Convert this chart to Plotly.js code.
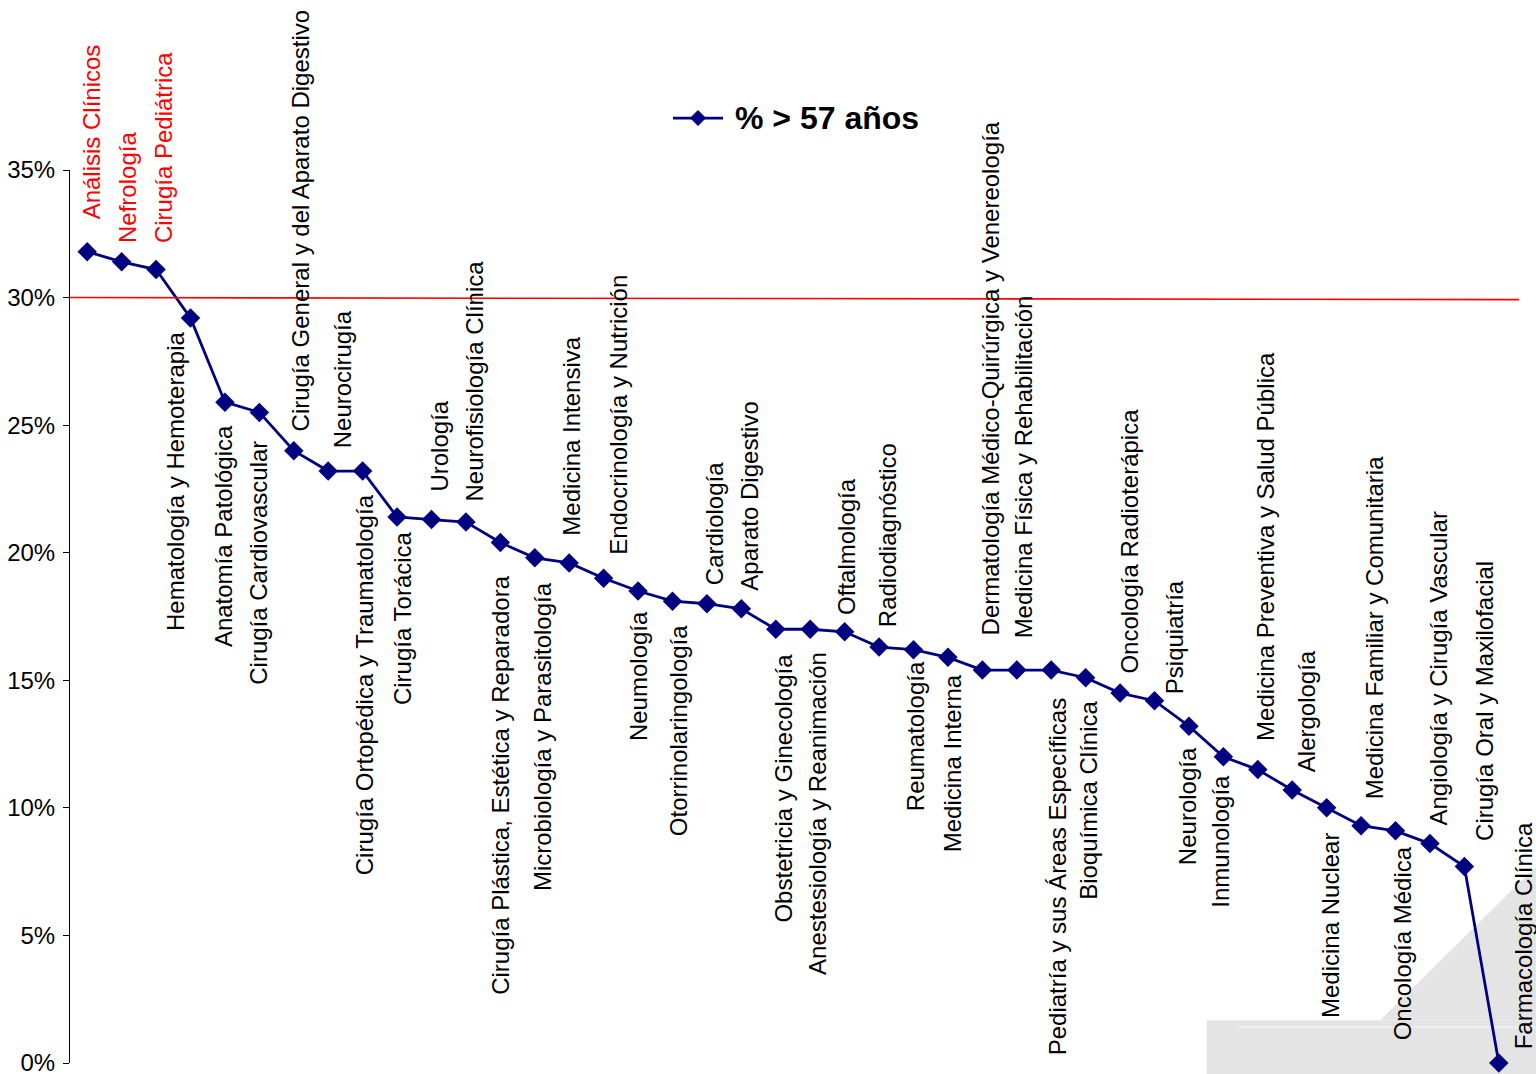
<!DOCTYPE html>
<html>
<head>
<meta charset="utf-8">
<script src="https://cdn.plot.ly/plotly-3.0.1.min.js"></script>
<style>html,body{margin:0;padding:0;background:#fff;}#chart{width:1536px;height:1074px;}</style>
</head>
<body>
<div id="chart"></div>
<script>
// ---- data ----
const specialties = [
  "Análisis Clínicos", "Nefrología", "Cirugía Pediátrica", "Hematología y Hemoterapia",
  "Anatomía Patológica", "Cirugía Cardiovascular", "Cirugía General y del Aparato Digestivo",
  "Neurocirugía", "Cirugía Ortopédica y Traumatología", "Cirugía Torácica", "Urología",
  "Neurofisiología Clínica", "Cirugía Plástica, Estética y Reparadora",
  "Microbiología y Parasitología", "Medicina Intensiva", "Endocrinología y Nutrición",
  "Neumología", "Otorrinolaringología", "Cardiología", "Aparato Digestivo",
  "Obstetricia y Ginecología", "Anestesiología y Reanimación", "Oftalmología",
  "Radiodiagnóstico", "Reumatología", "Medicina Interna",
  "Dermatología Médico-Quirúrgica y Venereología", "Medicina Física y Rehabilitación",
  "Pediatría y sus Áreas Específicas", "Bioquímica Clínica", "Oncología Radioterápica",
  "Psiquiatría", "Neurología", "Inmunología", "Medicina Preventiva y Salud Pública",
  "Alergología", "Medicina Nuclear", "Medicina Familiar y Comunitaria", "Oncología Médica",
  "Angiología y Cirugía Vascular", "Cirugía Oral y Maxilofacial", "Farmacología Clínica"
];
const pctOver57 = [
  31.8, 31.4, 31.1, 29.2, 25.9, 25.5, 24.0, 23.2, 23.2, 21.4, 21.3, 21.2, 20.4, 19.8,
  19.6, 19.0, 18.5, 18.1, 18.0, 17.8, 17.0, 17.0, 16.9, 16.3, 16.2, 15.9, 15.4, 15.4,
  15.4, 15.1, 14.5, 14.2, 13.2, 12.0, 11.5, 10.7, 10.0, 9.3, 9.1, 8.6, 7.7, 0.0
];
const seriesName = "% > 57 años";
const threshold = 30;
const yTicks = [0, 5, 10, 15, 20, 25, 30, 35];

// ---- label placement (layout only) ----
const labelAbove = [1,1,1,0,0,0,1,1,0,0,1,1,0,0,1,1,0,0,1,1,0,0,1,1,0,0,1,1,0,0,1,1,0,0,1,1,0,1,0,1,1,1];
const labelNudgeX = [4,6,7,-15,-2,-1,7,14,2,6,8,9,0,8,2,15,1,6,7,8,8,8,2,8,2,4,8,7,6,3,9,20,-2,-3,7,14,4,13,7,9,20,25];
const labelGap = [34,21,28,16,25,30,21,25,25,16,30,23,34,26,29,25,22,26,21,20,26,25,19,22,14,19,37,34,29,25,21,8,23,20,31,20,27,28,18,20,28,16];

const navy = "#000080";
const font = "Arial, 'Liberation Sans', sans-serif";

const trace = {
  type: "scatter",
  mode: "lines+markers",
  name: seriesName,
  x: specialties,
  y: pctOver57,
  line: {color: navy, width: 2.8},
  marker: {symbol: "diamond", size: 15, color: navy},
  cliponaxis: false,
  showlegend: false,
  hoverinfo: "x+y"
};

const annotations = specialties.map((s, i) => {
  const above = labelAbove[i] === 1;
  return {
    x: s, y: pctOver57[i], xref: "x", yref: "y",
    text: s, showarrow: false, textangle: -90,
    xanchor: "center", yanchor: above ? "bottom" : "top",
    xshift: labelNudgeX[i],
    yshift: above ? labelGap[i] - 4 : -(labelGap[i] - 4),
    font: {family: font, size: 24, color: pctOver57[i] > threshold ? "#FF0000" : "#000000"}
  };
});

// legend drawn by hand (line + diamond + bold text)
const legY = 1.0582;
annotations.push({
  xref: "paper", yref: "paper", x: 0.4585, y: legY, xanchor: "left", yanchor: "middle",
  text: "<b>" + seriesName.replace(">", "&gt;") + "</b>", showarrow: false,
  font: {family: font, size: 32, color: "#000"}
});

const grey = "#e4e4e4";
const dxd = 7.5 / 1446, dyd = 7.5 / 893, legCx = 0.4343;
const shapes = [
  // watermark (faint logo in the corner)
  {type: "rect", xref: "paper", yref: "paper", x0: 0.786, x1: 1.02, y0: -0.02, y1: 0.048,
   fillcolor: grey, line: {width: 0}, layer: "below"},
  {type: "path", xref: "paper", yref: "paper",
   path: "M 0.906 0.048 L 1.02 0.23 L 1.02 0.048 Z",
   fillcolor: grey, line: {width: 0}, layer: "below"},
  {type: "line", xref: "paper", yref: "paper", x0: 0.808, x1: 1.02, y0: 0.040, y1: 0.040,
   line: {color: "#f0f0f0", width: 2}, layer: "below"},
  // red threshold line
  {type: "line", xref: "paper", yref: "y", x0: 0, x1: 1.002, y0: threshold, y1: threshold - 0.08,
   line: {color: "#FF0000", width: 1.6}},
  // legend symbol
  {type: "line", xref: "paper", yref: "paper", x0: 0.4170, x1: 0.4516, y0: legY, y1: legY,
   line: {color: navy, width: 2.8}},
  {type: "path", xref: "paper", yref: "paper",
   path: `M ${legCx - dxd} ${legY} L ${legCx} ${legY + dyd} L ${legCx + dxd} ${legY} L ${legCx} ${legY - dyd} Z`,
   fillcolor: navy, line: {color: navy, width: 1}}
];

const layout = {
  width: 1536, height: 1074,
  margin: {l: 70, r: 20, t: 170, b: 11, pad: 0},
  paper_bgcolor: "#ffffff", plot_bgcolor: "rgba(0,0,0,0)",
  font: {family: font, color: "#000"},
  showlegend: false,
  xaxis: {
    type: "category", range: [-0.5, specialties.length - 0.5],
    showticklabels: false, showgrid: false, zeroline: false, showline: false, ticks: ""
  },
  yaxis: {
    range: [0, 35], tickvals: yTicks, ticktext: yTicks.map(v => v + "%"),
    ticks: "outside", ticklen: 6, tickcolor: "#000", tickwidth: 1,
    showline: true, linecolor: "#000", linewidth: 1,
    showgrid: false, zeroline: false, ticklabeloverflow: "allow",
    ticklabelstandoff: 3,
    tickfont: {family: font, size: 24, color: "#000"}
  },
  annotations: annotations,
  shapes: shapes
};

Plotly.newPlot("chart", [trace], layout, {displayModeBar: false, staticPlot: true});
</script>
</body>
</html>
